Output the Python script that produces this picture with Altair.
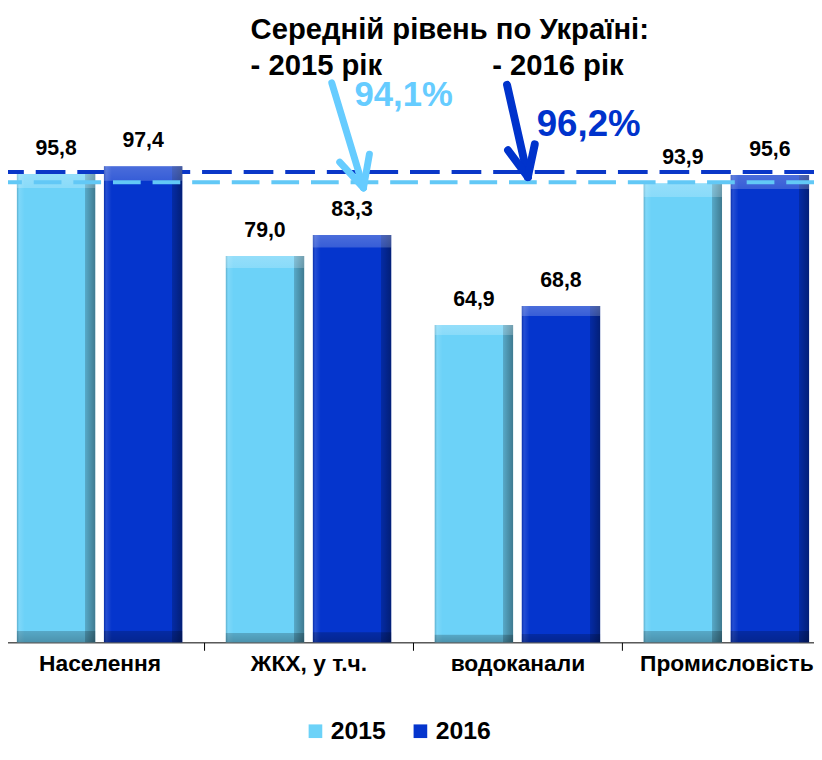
import altair as alt
import pandas as pd

# ---- data ----
categories = ["Населення", "ЖКХ, у т.ч.", "водоканали", "Промисловість"]
years = ["2015", "2016"]
values_2015 = [95.8, 79.0, 64.9, 93.9]
values_2016 = [97.4, 83.3, 68.8, 95.6]
avg_2015 = 94.1
avg_2016 = 96.2

title_text = "Середній рівень по Україні:"
label_2015 = "- 2015 рік"
label_2016 = "- 2016 рік"
avg_2015_text = "94,1%"
avg_2016_text = "96,2%"

# ---- styles ----
FONT = "Liberation Sans, Arial, sans-serif"
LIGHT = "#6CD2F8"
DARK = "#0535CD"
LIGHT_LINE = "#62C8F6"
DARK_LINE = "#0A37C8"
LIGHT_TXT = "#66CCFF"
DARK_TXT = "#0033CC"

rows = []
for yr, vals in zip(years, [values_2015, values_2016]):
    for c, v in zip(categories, vals):
        rows.append({"cat": c, "year": yr, "value": v,
                     "label": f"{v:.1f}".replace(".", ",")})
df = pd.DataFrame(rows)

x_enc = alt.X(
    "cat:N", sort=categories,
    scale=alt.Scale(range=[-13, 831], paddingInner=0, paddingOuter=0),
    axis=alt.Axis(title=None, labelAngle=0, labelFontSize=23, labelFontWeight="bold",
                  labelColor="black", labelFont=FONT, domainColor="black", domainWidth=1,
                  tickColor="black", tickSize=8, tickBand="extent", labelPadding=2,
                  grid=False),
)
xo_enc = alt.XOffset("year:N", sort=years,
                     scale=alt.Scale(paddingInner=0.1, paddingOuter=0.25))
y_scale = alt.Scale(domain=[0, 129], nice=False, zero=True)
y_enc = alt.Y("value:Q", scale=y_scale, axis=None)

bars = alt.Chart(df).mark_bar().encode(
    x=x_enc, xOffset=xo_enc, y=y_enc,
    color=alt.Color(
        "year:N", sort=years,
        scale=alt.Scale(domain=years, range=[LIGHT, DARK]),
        legend=alt.Legend(orient="none", legendX=298, legendY=714, direction="horizontal",
                          title=None, symbolType="square", symbolSize=190,
                          symbolStrokeWidth=0, labelFontSize=25, labelFontWeight="bold",
                          labelFont=FONT, labelColor="black", columnPadding=22,
                          labelOffset=3),
    ),
)

shade_h = alt.Chart(df).mark_bar(
    fill=alt.Gradient(
        gradient="linear", x1=0, y1=0, x2=1, y2=0,
        stops=[
            alt.GradientStop(color="rgba(0,0,0,0.18)", offset=0),
            alt.GradientStop(color="rgba(255,255,255,0.12)", offset=0.03),
            alt.GradientStop(color="rgba(255,255,255,0)", offset=0.1),
            alt.GradientStop(color="rgba(0,0,0,0)", offset=0.87),
            alt.GradientStop(color="rgba(0,0,0,0.2)", offset=0.875),
            alt.GradientStop(color="rgba(0,0,0,0.42)", offset=1),
        ],
    )
).encode(x=x_enc, xOffset=xo_enc, y=y_enc)

shade_v = alt.Chart(df).mark_bar(
    fill=alt.Gradient(
        gradient="linear", x1=0, y1=0, x2=0, y2=1,
        stops=[
            alt.GradientStop(color="rgba(255,255,255,0.28)", offset=0),
            alt.GradientStop(color="rgba(255,255,255,0.2)", offset=0.03),
            alt.GradientStop(color="rgba(255,255,255,0)", offset=0.031),
            alt.GradientStop(color="rgba(0,0,0,0)", offset=0.975),
            alt.GradientStop(color="rgba(0,0,0,0.2)", offset=0.976),
            alt.GradientStop(color="rgba(0,0,0,0.3)", offset=1),
        ],
    )
).encode(x=x_enc, xOffset=xo_enc, y=y_enc)

rule_dark = alt.Chart(pd.DataFrame({"value": [avg_2016]})).mark_rule(
    color=DARK_LINE, strokeWidth=4, strokeDash=[30, 12]
).encode(y=y_enc)

rule_light = alt.Chart(pd.DataFrame({"value": [avg_2015]})).mark_rule(
    color=LIGHT_LINE, strokeWidth=4, strokeDash=[28, 12]
).encode(y=y_enc)

labels = alt.Chart(df).mark_text(
    dy=-25, baseline="middle", align="center", fontSize=21.5, fontWeight="bold",
    font=FONT, color="black"
).encode(x=x_enc, xOffset=xo_enc, y=y_enc, text="label:N")

one = alt.Data(values=[{}])


def seg(x1, y1, x2, y2, color, w):
    return alt.Chart(one).mark_rule(color=color, strokeWidth=w, strokeCap="round").encode(
        x=alt.value(x1), y=alt.value(y1), x2=alt.value(x2), y2=alt.value(y2))


def txt(s, x, y, size, color):
    return alt.Chart(one).mark_text(
        text=s, align="left", baseline="alphabetic", fontSize=size, fontWeight="bold",
        font=FONT, color=color
    ).encode(x=alt.value(x), y=alt.value(y))


annotations = [
    txt(title_text, 245, 28, 29.5, "black"),
    txt(label_2015, 245, 64, 29.5, "black"),
    txt(label_2016, 489, 64, 29.5, "black"),
    txt(avg_2015_text, 350, 95, 35, LIGHT_TXT),
    txt(avg_2016_text, 534, 126, 37, DARK_TXT),
    # light arrow
    seg(327, 72, 359, 178, LIGHT_TXT, 7),
    seg(359, 178, 335, 152, LIGHT_TXT, 7),
    seg(359, 178, 365, 144, LIGHT_TXT, 7),
    # dark arrow
    seg(504, 74, 525, 167, DARK_TXT, 8),
    seg(525, 167, 505, 140, DARK_TXT, 8),
    seg(525, 167, 532, 134, DARK_TXT, 8),
]

chart = alt.layer(
    rule_dark, bars, shade_h, shade_v, rule_light, labels, *annotations
).properties(
    width=814, height=637,
    autosize=alt.AutoSizeParams(type="none"),
    padding={"left": 0, "top": 0, "right": 0, "bottom": 100},
).configure_view(strokeWidth=0)

chart.save("out.html", embed_options={"renderer": "svg", "actions": False})
